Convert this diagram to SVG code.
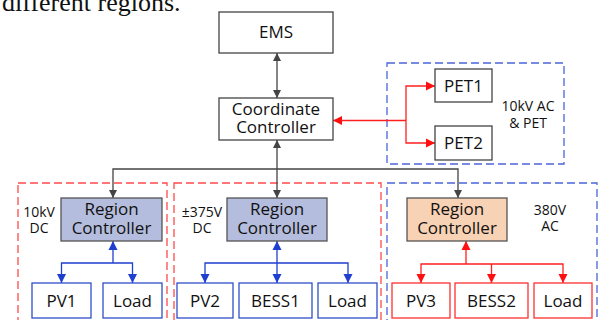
<svg xmlns="http://www.w3.org/2000/svg" width="598" height="320" viewBox="0 0 598 320">
<defs>
<style>
text{font-family:"Open Sans","Noto Sans",sans-serif;text-anchor:middle;fill:#111}
.t17{font-size:17px}
.t14{font-size:14px}
.box{fill:#fff;stroke:#444;stroke-width:1.3}
.bbox{fill:#fff;stroke:#2f4fc8;stroke-width:1.3}
.rbox{fill:#fff;stroke:#ff3030;stroke-width:1.3}
.rcb{fill:#b4bddd;stroke:#555;stroke-width:1.3}
.rco{fill:#f8d2b4;stroke:#555;stroke-width:1.3}
.dr{fill:none;stroke:#ff4a4a;stroke-width:1.3;stroke-dasharray:8 4}
.db{fill:none;stroke:#4a66d8;stroke-width:1.3;stroke-dasharray:8 4}
.cg{fill:none;stroke:#444;stroke-width:1.3}
.cr{fill:none;stroke:#ff2020;stroke-width:1.3}
.cb{fill:none;stroke:#1f3fcf;stroke-width:1.3}
</style>
<marker id="ag" viewBox="0 0 10 10" refX="10" refY="5" markerWidth="8" markerHeight="9" markerUnits="userSpaceOnUse" orient="auto-start-reverse"><path d="M0,0L10,5L0,10z" fill="#444"/></marker>
<marker id="ar" viewBox="0 0 10 10" refX="10" refY="5" markerWidth="9" markerHeight="10" markerUnits="userSpaceOnUse" orient="auto-start-reverse"><path d="M0,0L10,5L0,10z" fill="#ff1010"/></marker>
<marker id="ab" viewBox="0 0 10 10" refX="10" refY="5" markerWidth="9" markerHeight="10" markerUnits="userSpaceOnUse" orient="auto-start-reverse"><path d="M0,0L10,5L0,10z" fill="#1f3fcf"/></marker>
</defs>
<text x="2" y="11" style="font-family:'Liberation Serif',serif;font-size:26px;text-anchor:start">different regions.</text>
<g id="regions">
<rect id="region-10kvdc" class="dr" x="18" y="183" width="149" height="150"/>
<rect id="region-375vdc" class="dr" x="174" y="183" width="207" height="150"/>
<rect id="region-380vac" class="db" x="387" y="183" width="210" height="150"/>
<rect id="region-pet" class="db" x="387" y="63" width="177" height="101"/>
</g>
<g id="connectors">
<line class="cg" x1="277" y1="53" x2="277" y2="98" marker-start="url(#ag)" marker-end="url(#ag)"/>
<line class="cg" x1="277" y1="140" x2="277" y2="198" marker-start="url(#ag)" marker-end="url(#ag)"/>
<polyline class="cg" points="113,198 113,169 458,169 458,198" marker-start="url(#ag)" marker-end="url(#ag)"/>
<line class="cr" x1="406" y1="120.5" x2="333" y2="120.5" marker-end="url(#ar)"/>
<polyline class="cr" points="435,86 406,86 406,143 435,143" marker-start="url(#ar)" marker-end="url(#ar)"/>
<line class="cb" x1="113" y1="263" x2="113" y2="241" marker-end="url(#ab)"/>
<polyline class="cb" points="61.5,283 61.5,263 132.5,263 132.5,283" marker-start="url(#ab)" marker-end="url(#ab)"/>
<line class="cb" x1="277" y1="283" x2="277" y2="241" marker-start="url(#ab)" marker-end="url(#ab)"/>
<polyline class="cb" points="205,283 205,263 348,263 348,283" marker-start="url(#ab)" marker-end="url(#ab)"/>
<line class="cr" x1="466" y1="264" x2="466" y2="241" marker-end="url(#ar)"/>
<polyline class="cr" points="421,283 421,264 563,264 563,283" marker-start="url(#ar)" marker-end="url(#ar)"/>
<line class="cr" x1="491.5" y1="264" x2="491.5" y2="283" marker-end="url(#ar)"/>
</g>
<g id="ems"><rect class="box" x="219" y="12" width="114" height="41"/><text class="t17" x="276" y="38">EMS</text></g>
<g id="coord"><rect class="box" x="219" y="98" width="114" height="42"/><text class="t17" x="276" y="115">Coordinate<tspan x="276" dy="18">Controller</tspan></text></g>
<g id="pet1"><rect class="box" x="435" y="69" width="57" height="33"/><text class="t17" x="463.5" y="92">PET1</text></g>
<g id="pet2"><rect class="box" x="435" y="126" width="57" height="34"/><text class="t17" x="463.5" y="149">PET2</text></g>
<text class="t14" x="528" y="111">10kV AC<tspan x="528" dy="17">&amp; PET</tspan></text>
<g id="rc1"><rect class="rcb" x="61" y="198" width="101" height="43"/><text class="t17" x="111.5" y="215">Region<tspan x="111.5" dy="19">Controller</tspan></text></g>
<text class="t14" x="39" y="217">10kV<tspan x="39" dy="16">DC</tspan></text>
<g id="rc2"><rect class="rcb" x="227" y="198" width="100" height="43"/><text class="t17" x="277" y="215">Region<tspan x="277" dy="19">Controller</tspan></text></g>
<text class="t14" x="202" y="217">±375V<tspan x="202" dy="16">DC</tspan></text>
<g id="rc3"><rect class="rco" x="407" y="198" width="100" height="43"/><text class="t17" x="457" y="215">Region<tspan x="457" dy="19">Controller</tspan></text></g>
<text class="t14" x="550" y="215">380V<tspan x="550" dy="16">AC</tspan></text>
<g id="pv1"><rect class="bbox" x="32" y="283" width="59" height="35"/><text class="t17" x="61.5" y="307">PV1</text></g>
<g id="load1"><rect class="bbox" x="103" y="283" width="59" height="35"/><text class="t17" x="132.5" y="307">Load</text></g>
<g id="pv2"><rect class="bbox" x="177" y="283" width="56" height="35"/><text class="t17" x="205" y="307">PV2</text></g>
<g id="bess1"><rect class="bbox" x="239" y="283" width="73" height="35"/><text class="t17" x="275.5" y="307">BESS1</text></g>
<g id="load2"><rect class="bbox" x="318" y="283" width="59" height="35"/><text class="t17" x="347.5" y="307">Load</text></g>
<g id="pv3"><rect class="rbox" x="392" y="283" width="58" height="35"/><text class="t17" x="421" y="307">PV3</text></g>
<g id="bess2"><rect class="rbox" x="455" y="283" width="73" height="35"/><text class="t17" x="491.5" y="307">BESS2</text></g>
<g id="load3"><rect class="rbox" x="534" y="283" width="58" height="35"/><text class="t17" x="563" y="307">Load</text></g>
</svg>
